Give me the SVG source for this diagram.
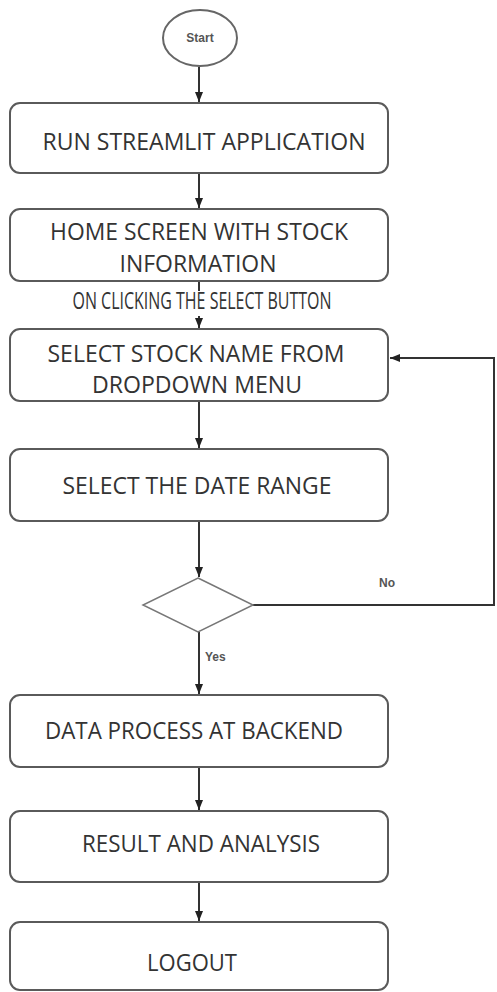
<svg xmlns="http://www.w3.org/2000/svg" width="497" height="992" viewBox="0 0 497 992">
<style>
.box{fill:#fff;stroke:#5a5a5a;stroke-width:2}
.t{font-family:"Open Sans","Liberation Sans",sans-serif;font-size:23px;fill:#333;text-anchor:middle}
.s{font-family:"Liberation Sans",Arial,sans-serif;font-size:12px;font-weight:bold;fill:#555}
.c{fill:none;stroke:#333;stroke-width:2}
</style>
<defs>
<marker id="ah" markerWidth="10" markerHeight="8" refX="10" refY="4" orient="auto" markerUnits="userSpaceOnUse">
<path d="M0,0 L10,4 L0,8 Z" fill="#222"/>
</marker>
</defs>
<rect width="497" height="992" fill="#fff"/>
<g id="connectors">
<line class="c" x1="199" y1="67" x2="199" y2="102" marker-end="url(#ah)"/>
<line class="c" x1="199" y1="173" x2="199" y2="208" marker-end="url(#ah)"/>
<line class="c" x1="199" y1="281" x2="199" y2="291"/>
<line class="c" x1="199" y1="316" x2="199" y2="328" marker-end="url(#ah)"/>
<line class="c" x1="199" y1="401" x2="199" y2="448" marker-end="url(#ah)"/>
<line class="c" x1="199" y1="521" x2="199" y2="577" marker-end="url(#ah)"/>
<polyline class="c" points="253,605 494,605 494,358 390,358" marker-end="url(#ah)"/>
<line class="c" x1="199" y1="632" x2="199" y2="694" marker-end="url(#ah)"/>
<line class="c" x1="199" y1="767" x2="199" y2="810" marker-end="url(#ah)"/>
<line class="c" x1="199" y1="882" x2="199" y2="921" marker-end="url(#ah)"/>
<text class="t" x="202" y="309" font-size="14" fill="#444" textLength="259" lengthAdjust="spacingAndGlyphs">ON CLICKING THE SELECT BUTTON</text>
<text class="s" x="387" y="587" text-anchor="middle">No</text>
<text class="s" x="205" y="661">Yes</text>
</g>
<g id="start">
<ellipse cx="200" cy="38" rx="37" ry="28" fill="#fff" stroke="#666" stroke-width="2"/>
<text class="s" x="200" y="42" text-anchor="middle" font-size="12">Start</text>
</g>
<g id="run">
<rect class="box" x="10" y="103" width="378" height="70" rx="10"/>
<text class="t" x="204" y="150" textLength="323" lengthAdjust="spacingAndGlyphs">RUN STREAMLIT APPLICATION</text>
</g>
<g id="home">
<rect class="box" x="10" y="209" width="378" height="72" rx="10"/>
<text class="t" x="199" y="240" textLength="298" lengthAdjust="spacingAndGlyphs">HOME SCREEN WITH STOCK</text>
<text class="t" x="198" y="272" textLength="157" lengthAdjust="spacingAndGlyphs">INFORMATION</text>
</g>
<g id="select-stock">
<rect class="box" x="10" y="329" width="378" height="72" rx="10"/>
<text class="t" x="196" y="362" textLength="297" lengthAdjust="spacingAndGlyphs">SELECT STOCK NAME FROM</text>
<text class="t" x="197" y="393" textLength="210" lengthAdjust="spacingAndGlyphs">DROPDOWN MENU</text>
</g>
<g id="date-range">
<rect class="box" x="10" y="449" width="378" height="72" rx="10"/>
<text class="t" x="197" y="494" textLength="269" lengthAdjust="spacingAndGlyphs">SELECT THE DATE RANGE</text>
</g>
<g id="decision">
<polygon points="198,578 253,605 198,632 143,605" fill="#fff" stroke="#777" stroke-width="1.5"/>
</g>
<g id="data-process">
<rect class="box" x="10" y="695" width="378" height="72" rx="10"/>
<text class="t" x="194" y="739" textLength="298" lengthAdjust="spacingAndGlyphs">DATA PROCESS AT BACKEND</text>
</g>
<g id="result">
<rect class="box" x="10" y="811" width="378" height="71" rx="10"/>
<text class="t" x="201" y="852" textLength="238" lengthAdjust="spacingAndGlyphs">RESULT AND ANALYSIS</text>
</g>
<g id="logout">
<rect class="box" x="10" y="922" width="378" height="68" rx="10"/>
<text class="t" x="192" y="971" textLength="90" lengthAdjust="spacingAndGlyphs">LOGOUT</text>
</g>
</svg>
